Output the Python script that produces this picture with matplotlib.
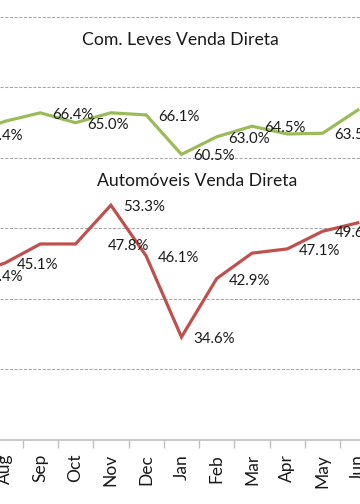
import matplotlib
matplotlib.use('Agg')
import matplotlib.pyplot as plt
import numpy as np

#------------------------------------------------
# data (Jul is just off the left edge of the crop)
#------------------------------------------------
months = ['Jul', 'Aug', 'Sep', 'Oct', 'Nov', 'Dec', 'Jan', 'Feb', 'Mar', 'Apr', 'May', 'Jun']
com_leves = [63.4, 65.2, 66.4, 65.0, 66.4, 66.1, 60.5, 63.0, 64.5, 63.4, 63.5, 66.8]
automoveis = [43.4, 45.1, 47.8, 47.8, 53.3, 46.1, 34.6, 42.9, 46.5, 47.1, 49.6, 50.8]
# which points carry a data label
com_leves_lbl = [True, False, True, True, False, True, True, True, True, False, True, False]
automoveis_lbl = [True, True, False, True, True, True, True, True, False, True, True, False]

titles = ['Com. Leves Venda Direta', 'Automóveis Venda Direta']
green = '#9bbb59'
red = '#c0504d'

plt.rcParams['font.family'] = ['Lato', 'DejaVu Sans']

fig = plt.figure(figsize=(3.6, 5.04), dpi=100)
ax = fig.add_axes([0, 64/504, 1, 440/504])

x = np.arange(len(months))
ax.plot(x, com_leves, color=green, lw=2.3, solid_joinstyle='miter')
ax.plot(x, automoveis, color=red, lw=2.3, solid_joinstyle='miter')

# label offsets in pixels (the Oct red label sits further right in the original)
def put_labels(vals, show, extra):
	for i in range(len(vals)):
		if not show[i]:
			continue
		dx = extra.get(i, 12)
		ax.annotate('{:.1f}%'.format(vals[i]), (x[i], vals[i]), xytext=(dx*0.72, -2*0.72),
			textcoords='offset points', ha='left', va='center', fontsize=10.8,
			color='#1a1a1a', annotation_clip=False)

put_labels(com_leves, com_leves_lbl, {})
put_labels(automoveis, automoveis_lbl, {3: 32})

ax.text(0.5, 0.909, titles[0], transform=ax.transAxes, ha='center', va='center', fontsize=12.7, color='#1a1a1a')
ax.text(0.547, 0.589, titles[1], transform=ax.transAxes, ha='center', va='center', fontsize=12.7, color='#1a1a1a')

for v in range(30, 90, 10):
	ax.axhline(v, color='#a6a6a6', lw=0.75, ls=(0, (3, 1.5)), zorder=0)

ax.set_yticks([])
ax.set_xticks(x + 0.5)
ax.set_xticklabels([])
ax.set_xticks(x, minor=True)
ax.set_xticklabels(months, minor=True, rotation=90, fontsize=12.5, color='#1a1a1a')
ax.tick_params(axis='x', which='major', length=6, width=1, color='#bfbfbf', direction='out')
ax.tick_params(axis='x', which='minor', length=0, pad=10)

# limits last, set_xticks would widen them again
ax.set_xlim(0.858, 11.06)
ax.set_ylim(20, 82.4)

for s in ['top', 'left', 'right']:
	ax.spines[s].set_visible(False)
ax.spines['bottom'].set_color('#bfbfbf')
ax.spines['bottom'].set_linewidth(1.2)

fig.savefig('out.png', dpi=100)
